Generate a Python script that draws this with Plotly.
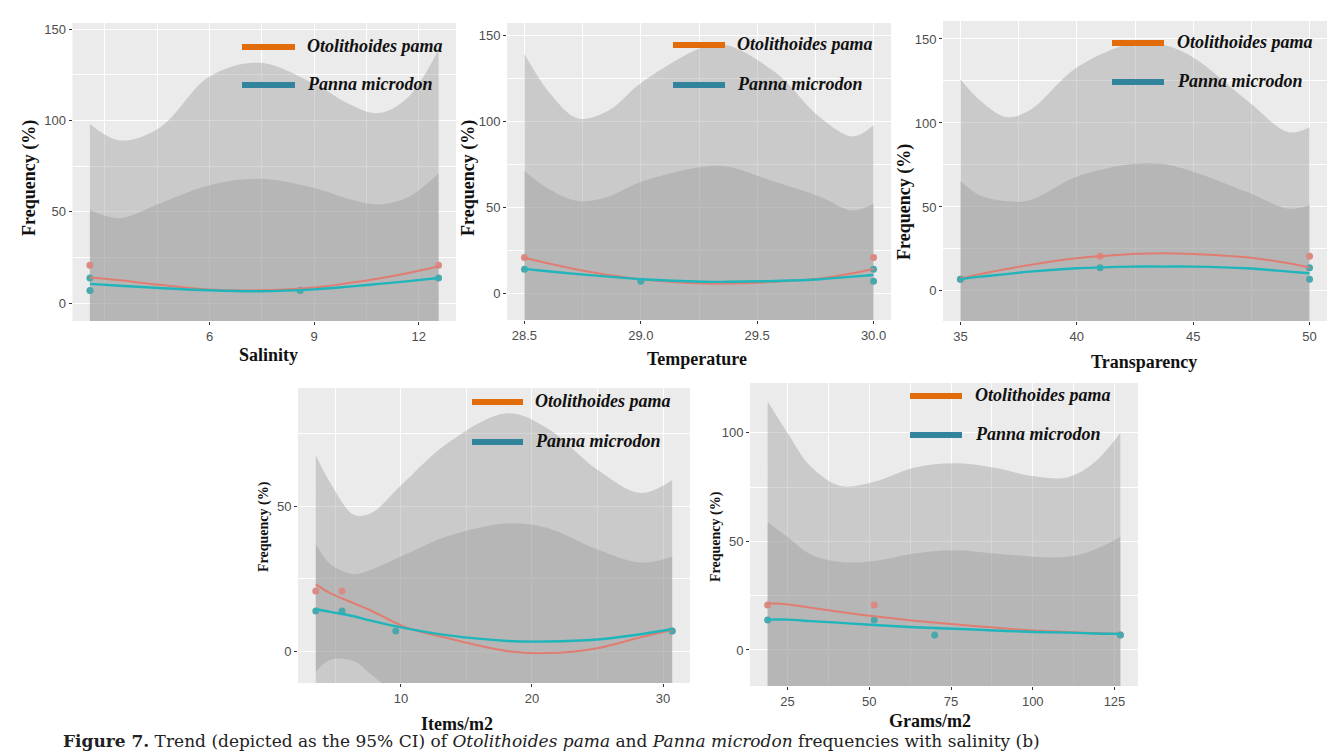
import plotly.graph_objects as go

W, H = 1340, 752

# ---------------- data ----------------
SPECIES = ["Otolithoides pama", "Panna microdon"]

# Salinity
SAL_X = [2.57, 3.43, 4.57, 6.0, 7.43, 9.0, 10.0, 10.86, 11.71, 12.57]
SAL_PAMA_FIT = [14, 12.5, 10, 7.5, 7, 8.5, 11, 13.5, 16.5, 20]
SAL_PAMA_UP = [98, 89, 96, 124, 131.5, 120, 109, 104, 113, 139]
SAL_PAMA_LO = [-70, -64, -76, -109, -117, -103, -87, -77, -80, -99]
SAL_PANNA_FIT = [10.5, 9.5, 8.3, 7, 6.5, 7.5, 9, 10.5, 12, 13.7]
SAL_PANNA_UP = [51, 46.5, 54.5, 64.5, 68, 63, 57, 54, 58, 71]
SAL_PANNA_LO = [-30, -27.5, -38, -50.5, -55, -48, -39, -33, -34, -43.6]
SAL_PAMA_PTS_X = [2.57, 8.6, 12.57]
SAL_PAMA_PTS_Y = [20.7, 6.9, 20.7]
SAL_PANNA_PTS_X = [2.57, 2.57, 8.6, 12.57]
SAL_PANNA_PTS_Y = [13.8, 6.9, 6.9, 13.8]

# Temperature
TMP_X = [28.5, 28.61, 28.73, 28.86, 29.0, 29.27, 29.37, 29.58, 29.77, 29.91, 30.0]
TMP_PAMA_FIT = [20.5, 17, 13.5, 10.5, 8, 5.5, 5.5, 6.5, 8.5, 11.5, 14]
TMP_PAMA_UP = [139, 116, 101.5, 106, 122, 143, 144, 128, 102, 91, 97.5]
TMP_PAMA_LO = [-98, -82, -74.5, -85, -106, -132, -133, -115, -85, -68, -69.5]
TMP_PANNA_FIT = [14, 12.5, 11, 9.5, 8, 6.5, 6.5, 7, 8, 9.5, 10.5]
TMP_PANNA_UP = [71, 60, 53.5, 56, 64.5, 73.5, 73.5, 64.5, 56, 48, 52]
TMP_PANNA_LO = [-43, -35, -31.5, -37, -48.5, -60.5, -60.5, -50.5, -40, -29, -31]
TMP_PAMA_PTS_X = [28.5, 30.0]
TMP_PAMA_PTS_Y = [20.7, 20.7]
TMP_PANNA_PTS_X = [28.5, 29.0, 30.0, 30.0]
TMP_PANNA_PTS_Y = [13.8, 6.9, 13.8, 6.9]

# Transparency
TRN_X = [35, 35.83, 36.97, 37.97, 40, 42.4, 43.7, 45, 47.3, 49.1, 50]
TRN_PAMA_FIT = [7.5, 10, 13, 15.5, 19.5, 22, 22.5, 22, 20, 16.5, 14]
TRN_PAMA_UP = [126, 113.5, 103.5, 107.5, 133, 147.5, 146.5, 139, 113.5, 94.5, 97.5]
TRN_PAMA_LO = [-111, -93.5, -77.5, -76.5, -94, -103.5, -101.5, -95, -73.5, -61.5, -69.5]
TRN_PANNA_FIT = [7, 8.5, 10, 11.5, 13.5, 14.5, 14.5, 14.5, 13.5, 11.5, 10.5]
TRN_PANNA_UP = [65.5, 57, 53.5, 54, 68, 75.5, 75.5, 71, 59, 49, 51]
TRN_PANNA_LO = [-51.5, -40, -33.5, -31, -41, -46.5, -46.5, -42, -32, -26, -30]
TRN_PAMA_PTS_X = [35, 41, 50]
TRN_PAMA_PTS_Y = [6.9, 20.7, 20.7]
TRN_PANNA_PTS_X = [35, 41, 50, 50]
TRN_PANNA_PTS_Y = [6.9, 13.8, 13.8, 6.9]

# Items/m2
ITM_X = [3.5, 4.6, 6.4, 7.7, 10.2, 13.5, 18.1, 21.1, 25.0, 28.3, 30.7]
ITM_PAMA_FIT = [23, 20, 16.5, 14, 8.5, 4.5, 0, -0.7, 1, 4.8, 7.3]
ITM_PAMA_UP = [67.5, 58, 47, 47.5, 58, 71.5, 82, 77, 62.5, 54.5, 59]
ITM_PAMA_LO = [-25, -22, -18, -22, -41, -62.5, -82, -78.4, -60.5, -45, -44.4]
ITM_PANNA_FIT = [14.5, 13.5, 12, 10.5, 8, 5.5, 3.5, 3.3, 4, 5.8, 7.6]
ITM_PANNA_UP = [37, 30, 26.5, 28, 33, 39.5, 44, 42.5, 35, 30.5, 32.5]
ITM_PANNA_LO = [-7.2, -3, -3.5, -8, -17, -28, -37, -36, -27, -19, -17]
ITM_PAMA_PTS_X = [3.5, 5.5, 30.7]
ITM_PAMA_PTS_Y = [20.7, 20.7, 6.9]
ITM_PANNA_PTS_X = [3.5, 5.5, 9.6, 30.7]
ITM_PANNA_PTS_Y = [13.8, 13.8, 6.9, 6.9]

# Grams/m2
GRM_X = [18.9, 25, 32.1, 41.3, 51.5, 63.7, 75.9, 88.2, 100.4, 110.6, 118.5, 126.8]
GRM_PAMA_FIT = [21.5, 21, 19.5, 17.5, 15.5, 13.5, 11.8, 10.3, 9, 8.3, 7.8, 7.4]
GRM_PAMA_UP = [114.5, 100, 84.5, 75.5, 77.5, 84, 86, 84, 80, 79.5, 86, 100]
GRM_PAMA_LO = [-71, -58, -45, -40, -46, -57, -62, -63, -62, -63, -70, -85]
GRM_PANNA_FIT = [14, 14, 13.3, 12.5, 11.5, 10.5, 9.8, 9, 8.3, 8, 7.6, 7.4]
GRM_PANNA_UP = [59, 52, 44, 40.5, 41, 44.5, 46, 44.5, 43, 43, 46, 52]
GRM_PANNA_LO = [-31, -24, -19, -17.5, -18, -22, -25, -25, -25, -26, -30, -37]
GRM_PAMA_PTS_X = [18.9, 51.5, 126.8]
GRM_PAMA_PTS_Y = [20.7, 20.7, 6.9]
GRM_PANNA_PTS_X = [18.9, 51.5, 70, 126.8]
GRM_PANNA_PTS_Y = [13.8, 13.8, 6.9, 6.9]

X_TITLES = ["Salinity", "Temperature", "Transparency", "Items/m2", "Grams/m2"]
Y_TITLE = "Frequency (%)"
X_TICKS = [[6, 9, 12], [28.5, 29.0, 29.5, 30.0], [35, 40, 45, 50], [10, 20, 30], [25, 50, 75, 100, 125]]
X_TICKTEXT = [["6", "9", "12"], ["28.5", "29.0", "29.5", "30.0"], ["35", "40", "45", "50"],
              ["10", "20", "30"], ["25", "50", "75", "100", "125"]]
Y_TICKS = [[0, 50, 100, 150], [0, 50, 100, 150], [0, 50, 100, 150], [0, 50], [0, 50, 100]]
CAPTION = ("<b>Figure 7.</b> Trend (depicted as the 95% CI) of <i>Otolithoides pama</i> and "
           "<i>Panna microdon</i> frequencies with salinity (b)")

DATA = [
    (SAL_X, SAL_PAMA_FIT, SAL_PAMA_UP, SAL_PAMA_LO, SAL_PANNA_FIT, SAL_PANNA_UP, SAL_PANNA_LO,
     SAL_PAMA_PTS_X, SAL_PAMA_PTS_Y, SAL_PANNA_PTS_X, SAL_PANNA_PTS_Y),
    (TMP_X, TMP_PAMA_FIT, TMP_PAMA_UP, TMP_PAMA_LO, TMP_PANNA_FIT, TMP_PANNA_UP, TMP_PANNA_LO,
     TMP_PAMA_PTS_X, TMP_PAMA_PTS_Y, TMP_PANNA_PTS_X, TMP_PANNA_PTS_Y),
    (TRN_X, TRN_PAMA_FIT, TRN_PAMA_UP, TRN_PAMA_LO, TRN_PANNA_FIT, TRN_PANNA_UP, TRN_PANNA_LO,
     TRN_PAMA_PTS_X, TRN_PAMA_PTS_Y, TRN_PANNA_PTS_X, TRN_PANNA_PTS_Y),
    (ITM_X, ITM_PAMA_FIT, ITM_PAMA_UP, ITM_PAMA_LO, ITM_PANNA_FIT, ITM_PANNA_UP, ITM_PANNA_LO,
     ITM_PAMA_PTS_X, ITM_PAMA_PTS_Y, ITM_PANNA_PTS_X, ITM_PANNA_PTS_Y),
    (GRM_X, GRM_PAMA_FIT, GRM_PAMA_UP, GRM_PAMA_LO, GRM_PANNA_FIT, GRM_PANNA_UP, GRM_PANNA_LO,
     GRM_PAMA_PTS_X, GRM_PAMA_PTS_Y, GRM_PANNA_PTS_X, GRM_PANNA_PTS_Y),
]

# ---------------- layout geometry (pixels) ----------------
GEOM = [
    dict(box=(72.5, 456, 23, 321), xr=[2.07, 13.07], yr=[-9.8, 153.3], xminor=1.5, yminor=25,
         ytitle=(30, 178, 18), xtitle=(268, 355), leg=(242, 295, 47, 85, 305)),
    dict(box=(507, 891, 23, 320), xr=[28.425, 30.075], yr=[-15.7, 157], xminor=0.25, yminor=25,
         ytitle=(469, 178, 18), xtitle=(697, 359), leg=(673, 725, 45, 85, 735)),
    dict(box=(943, 1327, 21, 321), xr=[34.25, 50.75], yr=[-17.9, 160.7], xminor=2.5, yminor=25,
         ytitle=(905, 202, 18), xtitle=(1144, 362), leg=(1112, 1164, 43, 82, 1175)),
    dict(box=(298, 690, 388, 683), xr=[2.14, 32.06], yr=[-11, 90.7], xminor=5, yminor=25,
         ytitle=(264, 527, 14), xtitle=(457, 724), leg=(472, 523, 402, 442, 533)),
    dict(box=(750, 1138, 383, 686), xr=[13.5, 132.2], yr=[-16.6, 123], xminor=12.5, yminor=25,
         ytitle=(716, 537, 14), xtitle=(930, 721), leg=(910, 962, 396, 435, 973)),
]

RIBBON = "rgba(153,153,153,0.4)"
PAMA_LINE = "#E07D72"
PANNA_LINE = "#1FB5BA"
PAMA_PT = "#D98A82"
PANNA_PT = "#4AA8AC"
LEG_ORANGE = "#E36C0A"
LEG_TEAL = "#31849B"
SERIF = "Liberation Serif"


def fx(p):
    return p / W


def fy(p):
    return 1 - p / H


fig = go.Figure()
shapes = []
annotations = []

for i, (d, g) in enumerate(zip(DATA, GEOM)):
    (x, pf, pu, pl, nf, nu, nl, ppx, ppy, npx, npy) = d
    n = i + 1
    xa = "x" if n == 1 else f"x{n}"
    ya = "y" if n == 1 else f"y{n}"
    common = dict(xaxis=xa, yaxis=ya, showlegend=False, hoverinfo="skip")
    spline = dict(shape="spline", smoothing=1)

    # ribbons (95% CI)
    fig.add_trace(go.Scatter(x=x, y=pl, mode="lines", line=dict(width=0, **spline), **common))
    fig.add_trace(go.Scatter(x=x, y=pu, mode="lines", line=dict(width=0, **spline),
                             fill="tonexty", fillcolor=RIBBON, **common))
    fig.add_trace(go.Scatter(x=x, y=nl, mode="lines", line=dict(width=0, **spline), **common))
    fig.add_trace(go.Scatter(x=x, y=nu, mode="lines", line=dict(width=0, **spline),
                             fill="tonexty", fillcolor=RIBBON, **common))
    # observed points
    fig.add_trace(go.Scatter(x=ppx, y=ppy, mode="markers",
                             marker=dict(size=7, color=PAMA_PT), **common))
    fig.add_trace(go.Scatter(x=npx, y=npy, mode="markers",
                             marker=dict(size=7, color=PANNA_PT), **common))
    # fitted trends
    fig.add_trace(go.Scatter(x=x, y=pf, mode="lines",
                             line=dict(color=PAMA_LINE, width=2, **spline), **common))
    fig.add_trace(go.Scatter(x=x, y=nf, mode="lines",
                             line=dict(color=PANNA_LINE, width=2.4, **spline), **common))

    l, r, t, b = g["box"]
    axis_common = dict(showgrid=True, gridcolor="white", gridwidth=1.3, zeroline=False,
                       showline=False, ticks="outside", ticklen=3, tickwidth=1,
                       tickcolor="#333333",
                       tickfont=dict(family="Liberation Sans", size=13, color="#4D4D4D"))
    fig.layout[f"xaxis{'' if n == 1 else n}"] = dict(
        domain=[fx(l), fx(r)], range=g["xr"], anchor=ya, tickmode="array",
        tickvals=X_TICKS[i], ticktext=X_TICKTEXT[i],
        minor=dict(tickmode="linear", tick0=0, dtick=g["xminor"], showgrid=True,
                   gridcolor="white", gridwidth=0.6, ticks=""),
        **axis_common)
    fig.layout[f"yaxis{'' if n == 1 else n}"] = dict(
        domain=[fy(b), fy(t)], range=g["yr"], anchor=xa, tickmode="array",
        tickvals=Y_TICKS[i],
        minor=dict(tickmode="linear", tick0=0, dtick=g["yminor"], showgrid=True,
                   gridcolor="white", gridwidth=0.6, ticks=""),
        **axis_common)

    # axis titles
    ytx, yty, yts = g["ytitle"]
    annotations.append(dict(x=fx(ytx), y=fy(yty), xref="paper", yref="paper",
                            text=f"<b>{Y_TITLE}</b>", textangle=-90, showarrow=False,
                            font=dict(family=SERIF, size=yts, color="#111111"),
                            xanchor="center", yanchor="middle"))
    xtx, xty = g["xtitle"]
    annotations.append(dict(x=fx(xtx), y=fy(xty), xref="paper", yref="paper",
                            text=f"<b>{X_TITLES[i]}</b>", showarrow=False,
                            font=dict(family=SERIF, size=18, color="#111111"),
                            xanchor="center", yanchor="middle"))

    # legend (inside panel)
    lx0, lx1, ly1, ly2, tx = g["leg"]
    for yy, col, name in ((ly1, LEG_ORANGE, SPECIES[0]), (ly2, LEG_TEAL, SPECIES[1])):
        shapes.append(dict(type="line", xref="paper", yref="paper",
                           x0=fx(lx0), x1=fx(lx1), y0=fy(yy), y1=fy(yy),
                           line=dict(color=col, width=6)))
        annotations.append(dict(x=fx(tx), y=fy(yy - 1), xref="paper", yref="paper",
                                text=f"<b><i>{name}</i></b>", showarrow=False,
                                font=dict(family=SERIF, size=18, color="#111111"),
                                xanchor="left", yanchor="middle"))

# figure caption, kept fully inside the page
annotations.append(dict(x=fx(62), y=0, xref="paper", yref="paper", text=CAPTION,
                        showarrow=False, xanchor="left", yanchor="bottom", borderpad=0,
                        font=dict(family="DejaVu Serif", size=17, color="#222222")))

fig.update_layout(width=W, height=H, margin=dict(l=0, r=0, t=0, b=0),
                  paper_bgcolor="white", plot_bgcolor="#EBEBEB",
                  shapes=shapes, annotations=annotations, showlegend=False)

fig.write_html("out.html")
